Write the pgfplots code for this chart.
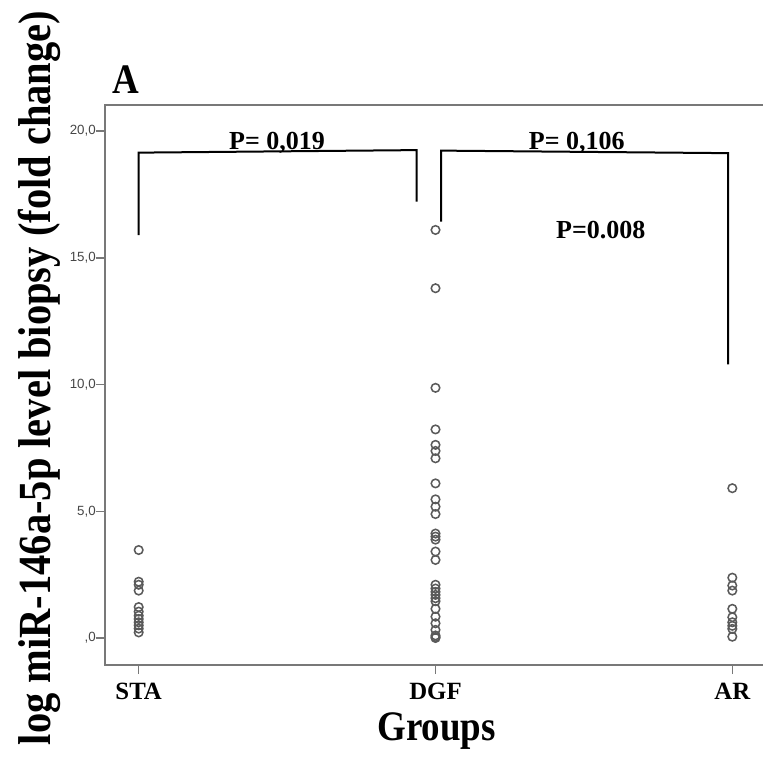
\documentclass[border=0pt]{standalone}
\usepackage{pgfplots}
\pgfplotsset{compat=1.18}
\usepackage{fontspec}
\setmainfont{Liberation Serif}
\newfontfamily\sansf{Liberation Sans}
\newfontfamily\condf{Liberation Serif}[FakeStretch=0.88]
\definecolor{axgray}{RGB}{120,120,120}
\definecolor{tkgray}{RGB}{70,70,70}
\definecolor{mkgray}{RGB}{90,90,90}
\begin{document}
\begin{tikzpicture}
\useasboundingbox (0,0) rectangle (572.25pt,567.75pt);
\begin{axis}[
  at={(78.75pt,69pt)}, anchor=south west,
  scale only axis, width=495.75pt, height=420pt,
  xmin=-0.1135, xmax=2.1135, ymin=-1.066, ymax=21.03,
  clip=false,
  axis line style={axgray, line width=1.1pt},
  tick align=outside, major tick length=6.75pt,
  tick style={axgray, line width=1.1pt},
  xtick pos=bottom, ytick pos=left,
  xtick={0,1,2}, xticklabels={STA,DGF,AR},
  ytick={0,5,10,15,20}, yticklabels={{,0},{5,0},{10,0},{15,0},{20,0}},
  xticklabel style={font=\bfseries\fontsize{18.6pt}{20pt}\selectfont, anchor=base, inner sep=0pt, yshift=-18.75pt},
  yticklabel style={font=\sansf\fontsize{10pt}{11pt}\selectfont, text=tkgray, inner sep=0pt, anchor=east},
  xlabel={Groups},
  xlabel style={at={(axis description cs:0.5018,-0.134)}, anchor=base, inner sep=0pt, font=\condf\bfseries\fontsize{31.5pt}{34pt}\selectfont},
  ylabel={log miR-146a-5p level biopsy (fold change)},
  ylabel style={at={(axis description cs:-0.0832,0.5125)}, anchor=base, rotate=0, inner sep=0pt, font=\condf\bfseries\fontsize{34.5pt}{38pt}\selectfont},
]
% brackets
\addplot[black, line width=1.5pt, line join=miter, mark=none] coordinates {(0,15.9) (0,19.15) (0.936,19.25) (0.936,17.22)};
\addplot[black, line width=1.5pt, line join=miter, mark=none] coordinates {(1.019,16.43) (1.019,19.23) (1.986,19.13) (1.986,10.8)};
% data
\addplot[only marks, mark=o, mark size=3.2pt, mark options={draw=mkgray, line width=1.15pt}] coordinates {
(0,3.47) (0,2.22) (0,2.10) (0,1.87) (0,1.22) (0,1.04) (0,0.88) (0,0.75) (0,0.62) (0,0.50) (0,0.37) (0,0.22)
};
\addplot[only marks, mark=o, mark size=3.2pt, mark options={draw=mkgray, line width=1.15pt}] coordinates {
(1,16.10) (1,13.80) (1,9.87) (1,8.23) (1,7.62) (1,7.38) (1,7.09) (1,6.10) (1,5.47) (1,5.18) (1,4.89) (1,4.12) (1,4.00) (1,3.88) (1,3.41) (1,3.08) (1,2.10) (1,1.95) (1,1.82) (1,1.70) (1,1.57) (1,1.45) (1,1.15) (1,0.84) (1,0.58) (1,0.32) (1,0.10) (1,0.04) (1,0.00)
};
\addplot[only marks, mark=o, mark size=3.2pt, mark options={draw=mkgray, line width=1.15pt}] coordinates {
(2,5.91) (2,2.38) (2,2.07) (2,1.87) (2,1.15) (2,0.82) (2,0.62) (2,0.48) (2,0.36) (2,0.05)
};
\node[anchor=base, inner sep=0pt, font=\bfseries\fontsize{19.5pt}{22pt}\selectfont] at (axis cs:0.466,19.29) {P= 0,019};
\node[anchor=base, inner sep=0pt, font=\bfseries\fontsize{19.5pt}{22pt}\selectfont] at (axis cs:1.476,19.29) {P= 0,106};
\node[anchor=base, inner sep=0pt, font=\bfseries\fontsize{19.5pt}{22pt}\selectfont] at (axis cs:1.557,15.77) {P=0.008};
\node[anchor=base west, inner sep=0pt, font=\condf\bfseries\fontsize{31.5pt}{34pt}\selectfont] at (axis description cs:0.0106,1.0214) {A};
\end{axis}
\end{tikzpicture}
\end{document}
